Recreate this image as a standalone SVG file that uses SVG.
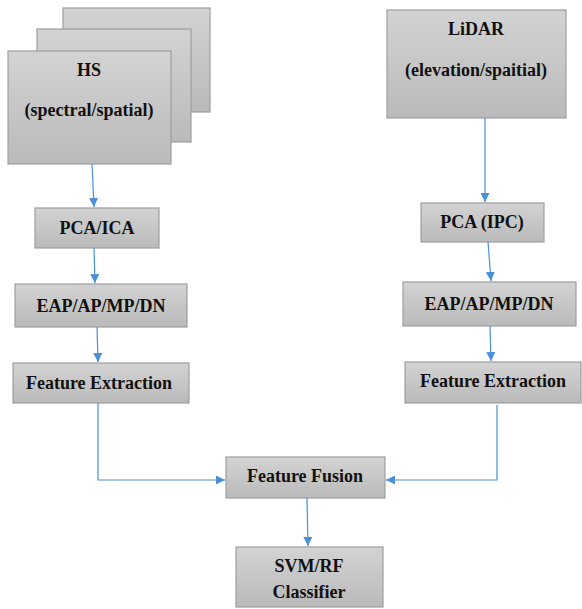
<svg xmlns="http://www.w3.org/2000/svg" width="582" height="609" viewBox="0 0 582 609">
<defs>
<linearGradient id="g" x1="0" y1="0" x2="0" y2="1">
<stop offset="0" stop-color="#d3d3d3"/>
<stop offset="1" stop-color="#bababa"/>
</linearGradient>
<marker id="ah" viewBox="0 0 10 10" refX="10" refY="5" markerWidth="9" markerHeight="9" markerUnits="userSpaceOnUse" orient="auto">
<path d="M0,0 L10,5 L0,10 z" fill="#4a90d6"/>
</marker>
</defs>
<style>
.box{fill:url(#g);stroke:#9e9e9e;stroke-width:1.2}
.t{font-weight:bold;font-size:18px;fill:#111;text-anchor:middle}
.c{fill:none;stroke:#4a90d6;stroke-width:1.2;marker-end:url(#ah)}
</style>
<rect width="582" height="609" fill="#fff"/>
<g font-family="'Liberation Serif', 'Times New Roman', serif">
<g id="hs">
<rect class="box" x="63" y="8" width="147" height="104"/>
<rect class="box" x="37" y="29" width="154" height="113"/>
<rect class="box" x="8" y="51" width="163" height="113"/>
<text class="t" x="89" y="76">HS</text>
<text class="t" x="89" y="116">(spectral/spatial)</text>
</g>
<g id="lidar">
<rect class="box" x="387" y="10" width="179" height="108"/>
<text class="t" x="476" y="35">LiDAR</text>
<text class="t" x="476" y="76">(elevation/spaitial)</text>
</g>
<g id="pca-ica">
<rect class="box" x="35" y="208" width="124" height="40"/>
<text class="t" x="97" y="234">PCA/ICA</text>
</g>
<g id="eap-left">
<rect class="box" x="15" y="284" width="172" height="43"/>
<text class="t" x="101" y="312">EAP/AP/MP/DN</text>
</g>
<g id="fe-left">
<rect class="box" x="13" y="363" width="176" height="40"/>
<text class="t" x="99" y="389">Feature Extraction</text>
</g>
<g id="pca-ipc">
<rect class="box" x="421" y="203" width="123" height="39"/>
<text class="t" x="482" y="228">PCA (IPC)</text>
</g>
<g id="eap-right">
<rect class="box" x="403" y="282" width="173" height="44"/>
<text class="t" x="489" y="310">EAP/AP/MP/DN</text>
</g>
<g id="fe-right">
<rect class="box" x="405" y="362" width="176" height="41"/>
<text class="t" x="493" y="387">Feature Extraction</text>
</g>
<g id="fusion">
<rect class="box" x="226" y="457" width="159" height="41"/>
<text class="t" x="305" y="482">Feature Fusion</text>
</g>
<g id="svm">
<rect class="box" x="236" y="547" width="147" height="60"/>
<text class="t" x="309" y="572">SVM/RF</text>
<text class="t" x="309" y="598">Classifier</text>
</g>
</g>
<g id="connectors">
<path class="c" d="M92,164 L94,207"/>
<path class="c" d="M94,248 L95,283"/>
<path class="c" d="M97,327 L98,362"/>
<path class="c" d="M485,118 L485,202"/>
<path class="c" d="M488,242 L491,281"/>
<path class="c" d="M490,326 L491,361"/>
<path class="c" d="M98,403 L98,480 L225,480"/>
<path class="c" d="M497,405 L497,480 L386,480"/>
<path class="c" d="M307,498 L308,546"/>
</g>
</svg>
